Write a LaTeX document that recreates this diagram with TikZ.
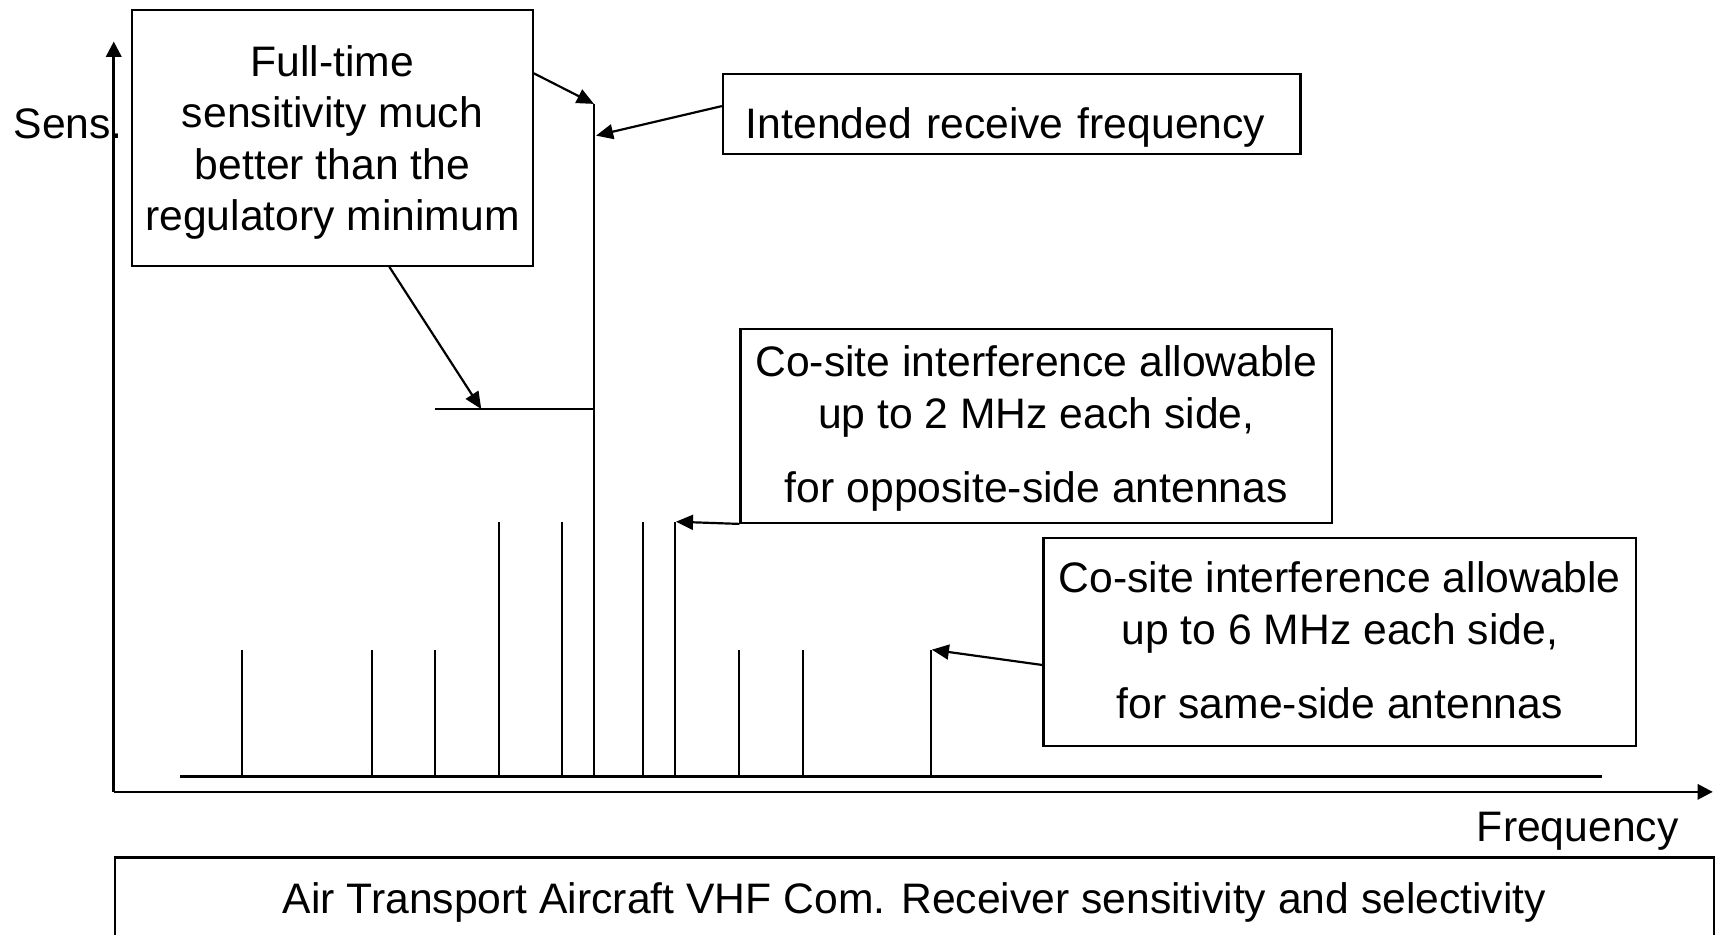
\documentclass[tikz,border=0pt]{standalone}
\usepackage{fontspec}
\setmainfont{Liberation Sans}
\usetikzlibrary{arrows.meta}
\newcommand{\shiftedlines}[2]{\raisebox{#1}[\height][\depth]{\begin{tabular}{@{}c@{}}#2\end{tabular}}}
\begin{document}
\begin{tikzpicture}[x=0.5pt,y=-0.5pt,
  every node/.style={font=\fontsize{19.5pt}{23.35pt}\selectfont, inner sep=0pt},
  box/.style={draw, line width=1pt, align=center, anchor=north west},
  tip/.style={-{Triangle[length=7.8pt,width=6.8pt]}, line width=1pt},
  spike/.style={line width=1pt},
  axis/.style={-{Triangle[length=7pt,width=7pt]}, line width=1.2pt}]
\useasboundingbox (0,0) rectangle (1568,854);

% boxes
\node[box, minimum width=183pt, minimum height=117pt] (ft) at (120,8)
  {\shiftedlines{-2.5pt}{Full-time\\sensitivity much\\better than the\\regulatory minimum}};
\node[box, minimum width=264pt, minimum height=36.5pt, text width=243pt, align=left] (intended) at (660,67)
  {\raisebox{-6.25pt}[\height][\depth]{Intended receive frequency}};
\node[box, minimum width=270.5pt, minimum height=88.5pt] (co2) at (676,300)
  {\shiftedlines{-1.5pt}{Co-site interference allowable\\up to 2 MHz each side,\\[10.5pt]for opposite-side antennas}};
\node[box, minimum width=271pt, minimum height=95pt] (co6) at (953,491)
  {\shiftedlines{-1.5pt}{Co-site interference allowable\\up to 6 MHz each side,\\[10.5pt]for same-side antennas}};
\node[box, minimum width=731pt, minimum height=39pt] (title) at (104,783)
  {\raisebox{-1pt}[\height][\depth]{Air Transport Aircraft VHF Com. Receiver sensitivity and selectivity}};

% axes
\coordinate (o) at (104,724);
\coordinate (ytop) at (104,38);
\coordinate (xend) at (1566,724);
\draw[axis] (o) -- (ytop);
\draw[axis] (o) -- (xend);
\node[anchor=base west] (sens) at (12,127) {Sens.};
\node[anchor=base east] (freq) at (1535,769) {Frequency};

% spectrum
\draw[spike] (165,710) -- (1465,710);
\foreach \x/\t in {221/594, 340/594, 398/594, 456/477, 514/477, 588/477, 676/594, 734/594}
  \draw[spike] (\x,710) -- (\x,\t);
\coordinate (main) at (543,95);
\coordinate (mainhit) at (545,124);
\draw[spike] (543,710) -- (main);
\coordinate (s2) at (617,477);
\coordinate (s2hit) at (618,477);
\draw[spike] (617,710) -- (s2);
\coordinate (s6) at (851,594);
\coordinate (s6hit) at (852,594);
\draw[spike] (851,710) -- (s6);
\coordinate (lvlL) at (398,374);
\coordinate (lvlR) at (543,374);
\coordinate (lvl) at (440,374);
\draw[spike] (lvlL) -- (lvlR);

% callout arrows
\draw[tip] ([yshift=-29.5pt]ft.north east) -- (main);
\draw[tip] ([xshift=26pt]ft.south) -- (lvl);
\draw[tip] ([yshift=3.75pt]intended.west) -- (mainhit);
\draw[tip] (co2.south west) -- (s2hit);
\draw[tip] ([yshift=-10.5pt]co6.west) -- (s6hit);
\end{tikzpicture}
\end{document}
